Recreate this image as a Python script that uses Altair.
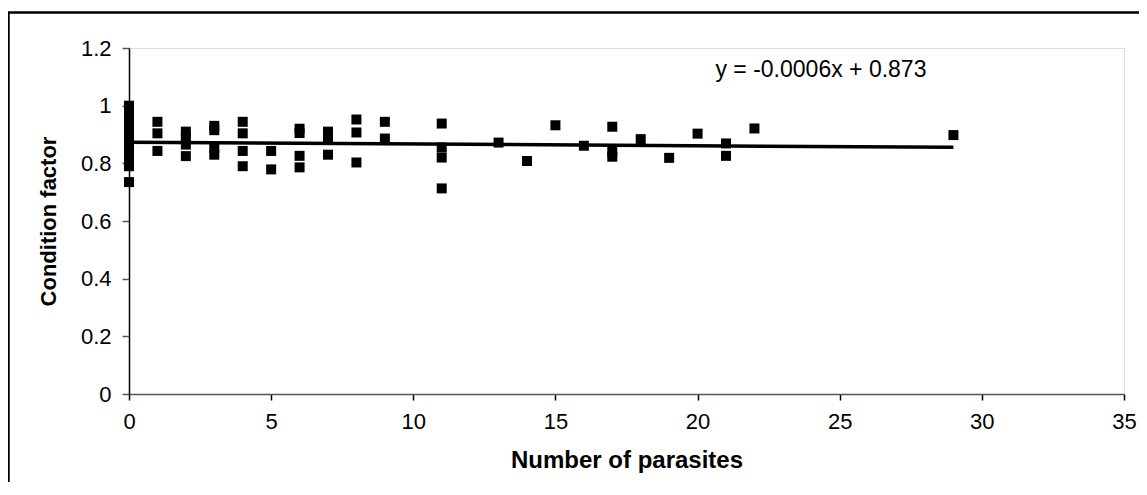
import altair as alt
import pandas as pd

# Scatter data: number of parasites vs condition factor
parasites = (
    [0] * 22
    + [1, 1, 1]
    + [2, 2, 2, 2]
    + [3, 3, 3, 3]
    + [4, 4, 4, 4]
    + [5, 5]
    + [6, 6, 6, 6]
    + [7, 7, 7]
    + [8, 8, 8]
    + [9, 9]
    + [11, 11, 11, 11]
    + [13, 14, 15, 16]
    + [17, 17, 17]
    + [18, 19, 20]
    + [21, 21]
    + [22, 29]
)
condition = (
    [1.0, 0.99, 0.97, 0.96, 0.95, 0.94, 0.93, 0.92, 0.91, 0.90, 0.89,
     0.88, 0.87, 0.86, 0.85, 0.84, 0.83, 0.82, 0.81, 0.80, 0.79, 0.735]
    + [0.944, 0.904, 0.843]
    + [0.91, 0.89, 0.865, 0.825]
    + [0.93, 0.915, 0.853, 0.83]
    + [0.944, 0.904, 0.843, 0.79]
    + [0.843, 0.779]
    + [0.92, 0.905, 0.826, 0.786]
    + [0.91, 0.89, 0.83]
    + [0.952, 0.907, 0.803]
    + [0.944, 0.886]
    + [0.938, 0.855, 0.82, 0.713]
    + [0.872, 0.808, 0.932, 0.861]
    + [0.927, 0.84, 0.823]
    + [0.884, 0.819, 0.903]
    + [0.869, 0.826]
    + [0.921, 0.898]
)

# Linear trend line endpoints (y = -0.0006x + 0.873)
trend_x = [0, 29]
trend_y = [0.873, 0.8556]

# Equation label
eq_text = ["y = -0.0006x + 0.873"]
eq_x = [24.34]
eq_y = [1.123]

x_ticks = [0, 5, 10, 15, 20, 25, 30, 35]
y_ticks = [0, 0.2, 0.4, 0.6, 0.8, 1.0, 1.2]

pts = pd.DataFrame({"x": parasites, "y": condition})
trend = pd.DataFrame({"x": trend_x, "y": trend_y})
eq = pd.DataFrame({"x": eq_x, "y": eq_y, "t": eq_text})

FONT = "Liberation Sans"
xscale = alt.Scale(domain=[0, 35], nice=False, zero=False)
yscale = alt.Scale(domain=[0, 1.2], nice=False)

xaxis = alt.Axis(
    values=x_ticks, title="Number of parasites", grid=False, labelFlush=False,
    labelFont=FONT, labelFontSize=22, labelColor="black", labelPadding=11,
    titleFont=FONT, titleFontSize=24, titleFontWeight="bold", titleColor="black",
    titleY=66, titleBaseline="middle",
    domainColor="#555555", domainWidth=1.5, tickColor="black", tickSize=6, tickWidth=1.5,
)
yaxis = alt.Axis(
    values=y_ticks, format=".1~f", title="Condition factor", grid=False, labelFlush=False,
    labelFont=FONT, labelFontSize=22, labelColor="black", labelPadding=11,
    titleFont=FONT, titleFontSize=22, titleFontWeight="bold", titleColor="black",
    titleX=-81, titleY=173, titleBaseline="middle", titleAngle=-90,
    domainColor="black", domainWidth=1.5, tickColor="#555555", tickSize=7, tickWidth=1.5,
)

points = alt.Chart(pts).mark_point(
    shape="square", filled=True, size=100, color="black", opacity=1
).encode(
    x=alt.X("x:Q", scale=xscale, axis=xaxis),
    y=alt.Y("y:Q", scale=yscale, axis=yaxis),
)

line = alt.Chart(trend).mark_line(color="black", strokeWidth=3.5).encode(
    x=alt.X("x:Q", scale=xscale), y=alt.Y("y:Q", scale=yscale)
)

label = alt.Chart(eq).mark_text(
    font=FONT, fontSize=23, color="black", align="center", baseline="middle"
).encode(
    x=alt.X("x:Q", scale=xscale), y=alt.Y("y:Q", scale=yscale), text="t:N"
)

# outer figure frame (decoration)
frame_left = alt.Chart(pd.DataFrame({"a": [0]})).mark_rule(
    color="black", strokeWidth=2.5
).encode(x=alt.value(-120.5), y=alt.value(-35.5), y2=alt.value(460))
frame_top = alt.Chart(pd.DataFrame({"a": [0]})).mark_rule(
    color="black", strokeWidth=2.5
).encode(x=alt.value(-121.5), x2=alt.value(1020), y=alt.value(-35.5))

chart = alt.layer(frame_left, frame_top, line, points, label).properties(
    width=995,
    height=346,
    autosize=alt.AutoSizeParams(type="none"),
    padding={"left": 121, "top": 40, "right": 15, "bottom": 88},
).configure_view(stroke=None).configure(background="white")

chart.save("out.html", embed_options={"renderer": "svg", "actions": False})
